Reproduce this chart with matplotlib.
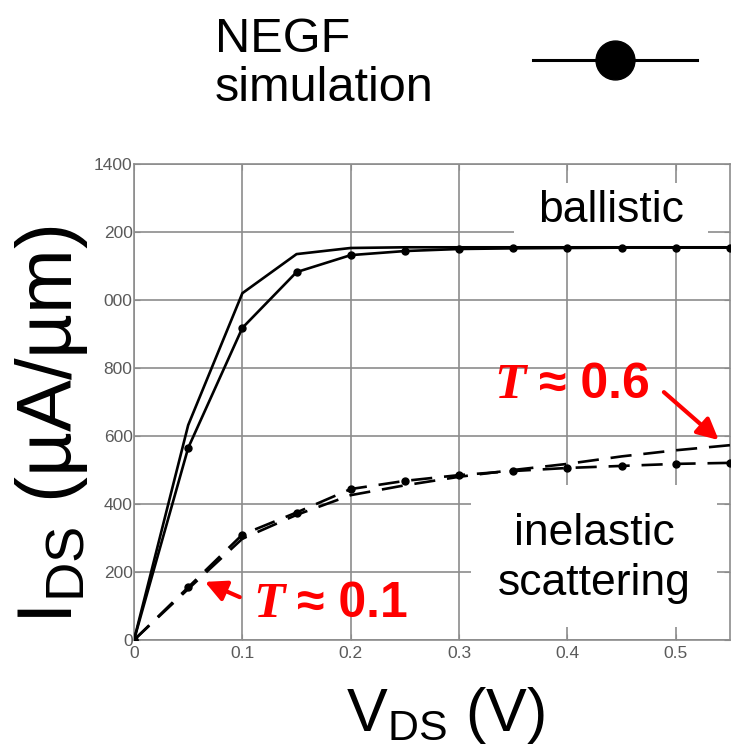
import matplotlib
matplotlib.use("Agg")
import matplotlib.pyplot as plt
from matplotlib.patches import Rectangle
from matplotlib.lines import Line2D

plt.rcParams['font.family'] = ['Liberation Sans', 'DejaVu Sans']
plt.rcParams['mathtext.fontset'] = 'custom'
plt.rcParams['mathtext.rm'] = 'Liberation Sans'
plt.rcParams['mathtext.it'] = 'Liberation Sans:italic'
plt.rcParams['mathtext.bf'] = 'Liberation Sans:bold'

# ---- data ----
vds = [0.0, 0.05, 0.10, 0.15, 0.20, 0.25, 0.30, 0.35, 0.40, 0.45, 0.50, 0.55]
ballistic_model = [0, 632, 1020, 1135, 1153, 1155, 1155, 1155, 1155, 1155, 1155, 1155]
ballistic_negf = [0, 565, 918, 1082, 1132, 1144, 1150, 1152, 1153, 1154, 1154, 1154]
scatter_negf = [0, 155, 310, 375, 444, 468, 485, 497, 506, 512, 518, 521]
scatter_model = [0, 150, 298, 368, 426, 455, 480, 500, 518, 540, 558, 573]

xticks = [0, 0.1, 0.2, 0.3, 0.4, 0.5]
xticklabels = ['0', '0.1', '0.2', '0.3', '0.4', '0.5']
yticks = [0, 200, 400, 600, 800, 1000, 1200, 1400]
yticklabels = ['0', '200', '400', '600', '800', '000', '200', '1400']

W, H = 734, 750
fig = plt.figure(figsize=(W / 100, H / 100), dpi=100)
ax = fig.add_axes([134 / W, 1 - 640 / H, (730 - 134) / W, (640 - 164) / H])

ax.set_xlim(0, 0.55)
ax.set_ylim(0, 1400)
ax.set_axisbelow(True)
ax.grid(True, color='#8c8c8c', lw=1.2)
for s in ax.spines.values():
    s.set_color('#8c8c8c')
    s.set_linewidth(1.2)
ax.set_xticks(xticks)
ax.set_xticklabels(xticklabels)
ax.set_yticks(yticks)
ax.set_yticklabels(yticklabels)
ax.tick_params(direction='in', length=4, color='#8c8c8c', labelsize=12.5,
               labelcolor='#5a5a5a', top=True, right=True)
ax.tick_params(axis='y', pad=1)
ax.tick_params(axis='x', pad=4)

lw = 1.9
ax.plot(vds, ballistic_model, color='black', lw=lw, zorder=3)
ax.plot(vds, ballistic_negf, color='black', lw=lw, marker='o', ms=5, zorder=3)
ax.plot(vds, scatter_model, color='black', lw=lw, dashes=(8, 4.5), zorder=3)
ax.plot(vds, scatter_negf, color='black', lw=lw, dashes=(8, 4.5), marker='o', ms=5, zorder=3)

# white label boxes
ax.add_patch(Rectangle((0.351, 1162), 0.530 - 0.351, 1345 - 1162, facecolor='white',
                       edgecolor='none', zorder=1.5))
ax.add_patch(Rectangle((0.311, 38), 0.538 - 0.311, 456 - 38, facecolor='white',
                       edgecolor='none', zorder=1.5))
ax.text(0.4405, 1262, 'ballistic', ha='center', va='center', fontsize=32, zorder=4)
ax.text(0.4245, 240, 'inelastic\nscattering', ha='center', va='center', fontsize=32,
        linespacing=1.3, zorder=4)

# red annotations
red = '#ff0000'
ax.text(0.3324, 712, 'T', color=red, fontsize=37, fontweight='bold', fontstyle='italic',
        family=['Liberation Serif', 'DejaVu Serif'], va='baseline', ha='left', zorder=5)
ax.text(0.374, 712, '\u2248 0.6', color=red, fontsize=36, fontweight='bold',
        va='baseline', ha='left', zorder=5)
ax.annotate('', xy=(0.5396, 588), xytext=(0.489, 729),
            arrowprops=dict(arrowstyle='-|>', color=red, lw=3, mutation_scale=32,
                            shrinkA=0, shrinkB=0), zorder=5)
ax.text(0.1096, 68, 'T', color=red, fontsize=37, fontweight='bold', fontstyle='italic',
        family=['Liberation Serif', 'DejaVu Serif'], va='baseline', ha='left', zorder=5)
ax.text(0.150, 68, '\u2248 0.1', color=red, fontsize=36, fontweight='bold',
        va='baseline', ha='left', zorder=5)
ax.annotate('', xy=(0.0654, 171), xytext=(0.0976, 126),
            arrowprops=dict(arrowstyle='-|>', color=red, lw=3, mutation_scale=32,
                            shrinkA=0, shrinkB=0), zorder=5)

# axis labels
fig.text(52 / W, 1 - 425 / H, 'I$_{\\mathrm{DS}}$ (\u00b5A/\u00b5m)', rotation=90,
         ha='center', va='center', fontsize=56)
fig.text(445 / W, 1 - 716 / H, 'V$_{\\mathrm{DS}}$ (V)', ha='center', va='center',
         fontsize=44)

# legend at the top
fig.text(215 / W, 1 - 64 / H, 'NEGF\nsimulation', ha='left', va='center', fontsize=35,
         linespacing=1.1)
fig.add_artist(Line2D([533 / W, 697 / W], [1 - 60 / H, 1 - 60 / H], transform=fig.transFigure,
                      color='black', lw=2.2))
fig.add_artist(Line2D([615 / W], [1 - 60 / H], transform=fig.transFigure, color='black',
                      marker='o', ms=28, lw=0))

fig.savefig('out.png', dpi=100)
